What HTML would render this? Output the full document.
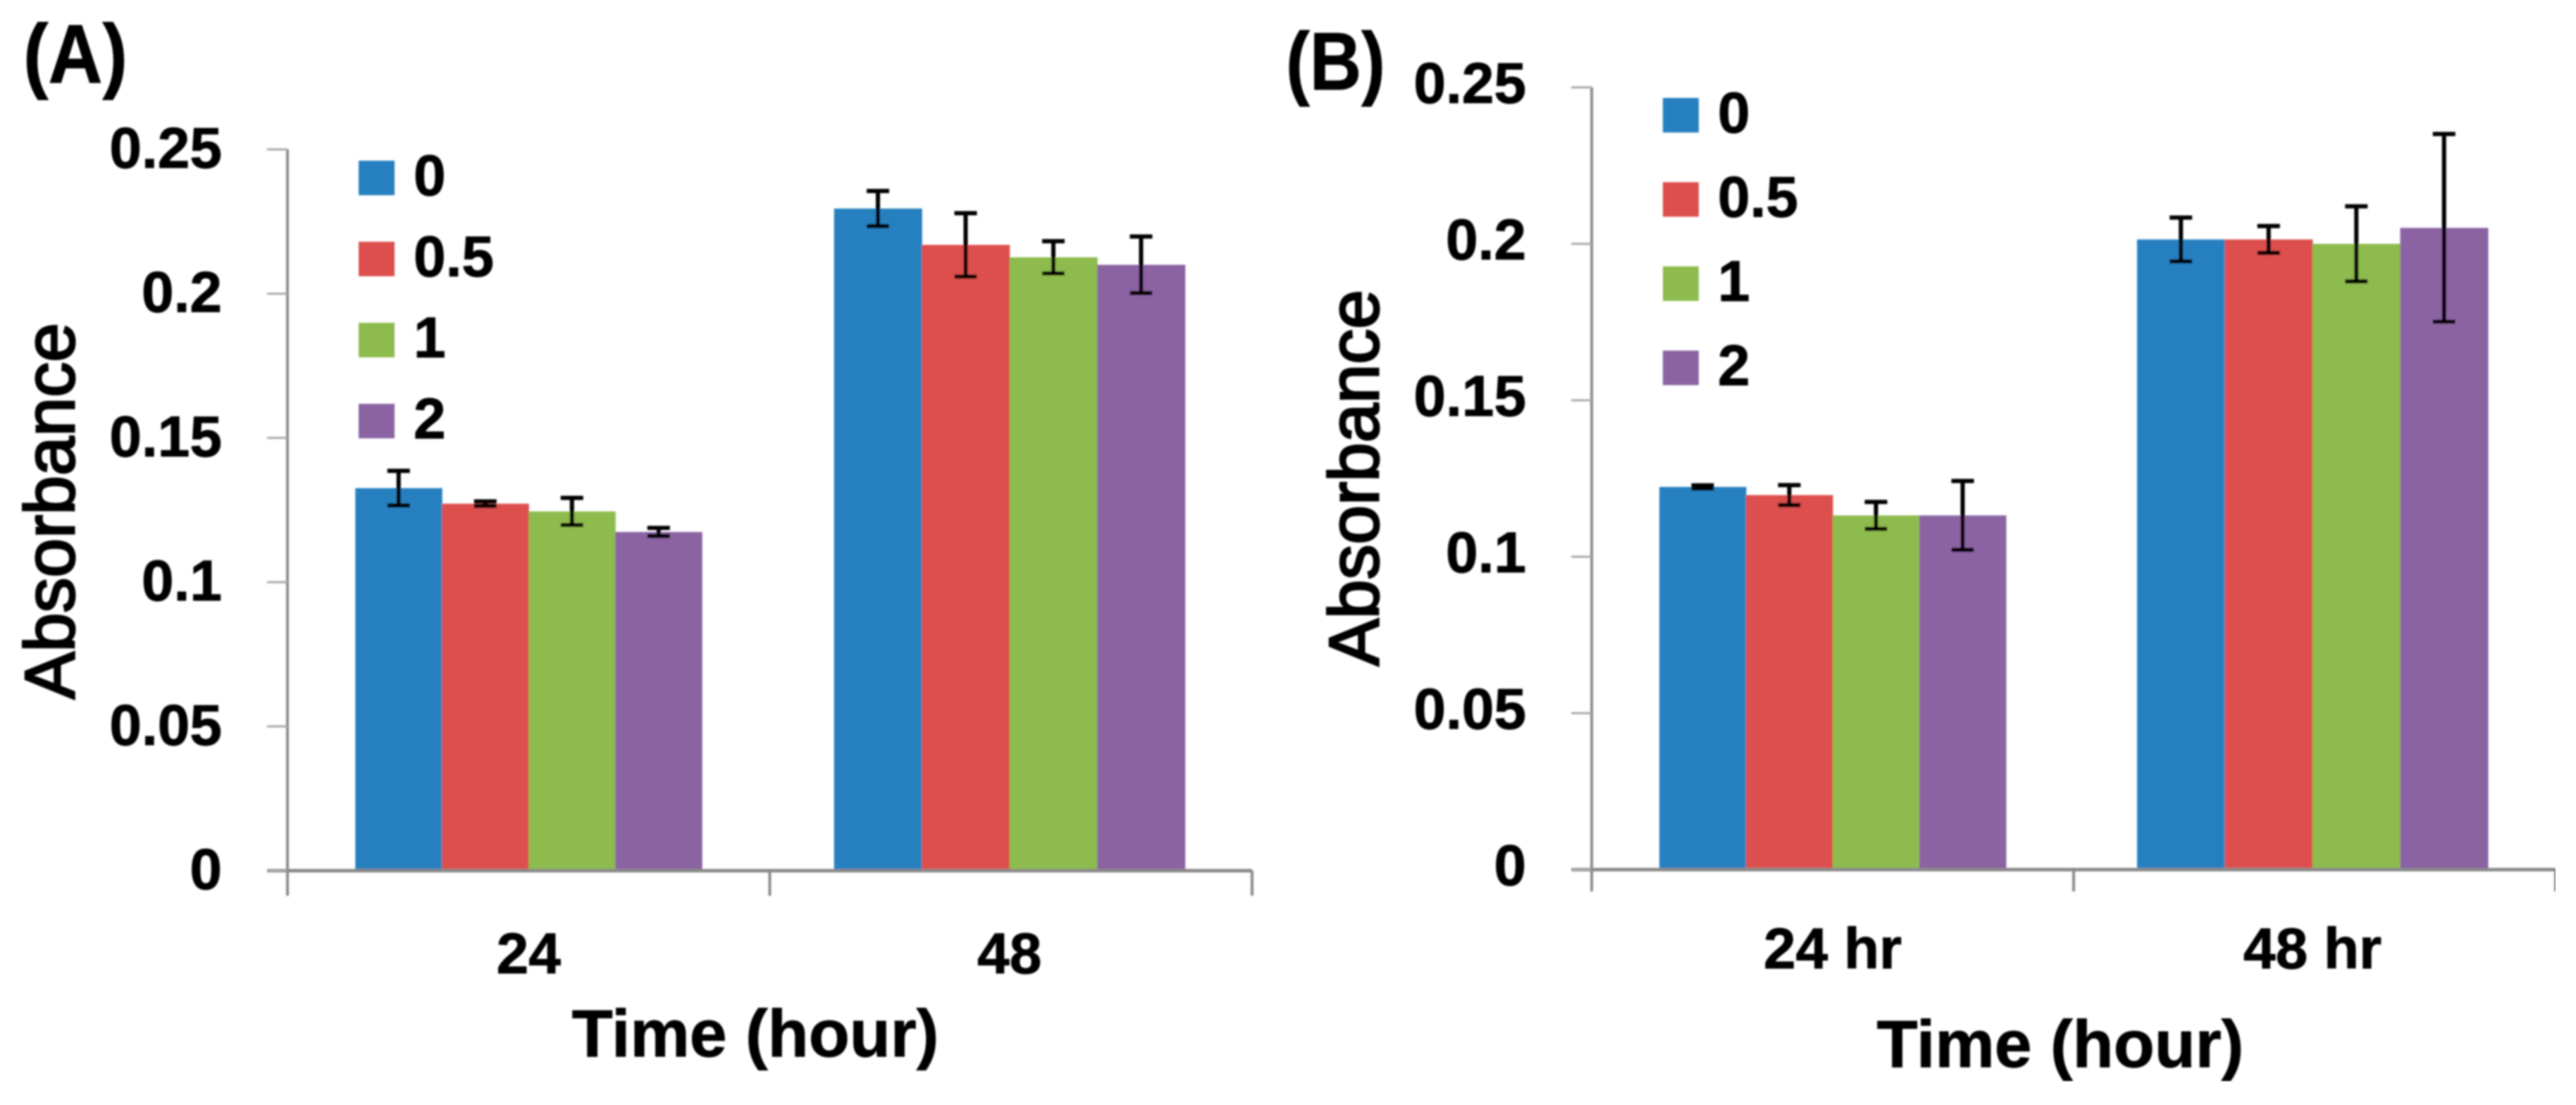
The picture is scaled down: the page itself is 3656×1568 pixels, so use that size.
<!DOCTYPE html>
<html lang="en">
<head>
<meta charset="utf-8">
<title>Absorbance over time, panels A and B</title>
<style>
html,body{margin:0;padding:0;background:#fff;width:3656px;height:1568px;overflow:hidden}
svg{display:block}
text{font-family:"Liberation Sans",Arial,sans-serif;fill:#000}
.b{font-weight:700;stroke:#000;stroke-width:1}
</style>
</head>
<body>
<svg id="figure" xmlns="http://www.w3.org/2000/svg" width="3656" height="1568" viewBox="0 0 3656 1568">
  <defs><filter id="soft" x="0" y="0" width="100%" height="100%"><feGaussianBlur stdDeviation="1.3"/></filter></defs>
  <rect width="3656" height="1568" fill="#fff"/>
  <g filter="url(#soft)">
    <text class="b" x="33" y="117" font-size="118" textLength="148" lengthAdjust="spacingAndGlyphs">(A)</text>
    <text class="b" x="1825" y="127" font-size="116" textLength="141" lengthAdjust="spacingAndGlyphs">(B)</text>
    <text transform="translate(105 725) rotate(-90)" text-anchor="middle" font-size="100" stroke="#000" stroke-width="3">Absorbance</text>
    <text transform="translate(1956 678) rotate(-90)" text-anchor="middle" font-size="100" stroke="#000" stroke-width="3">Absorbance</text>
    <text class="b" x="1072" y="1499" text-anchor="middle" font-size="95">Time (hour)</text>
    <text class="b" x="2924" y="1514" text-anchor="middle" font-size="95">Time (hour)</text>
    <g id="panel-a"></g>
    <g id="panel-b"></g>
  </g>
</svg>
<script>
const seriesNames = ['0', '0.5', '1', '2'];
const seriesColors = ['#2580bf', '#dc4f4d', '#8ebb4e', '#8b63a3'];
const yTickValues = [0, 0.05, 0.1, 0.15, 0.2, 0.25];
const yTickLabels = ['0', '0.05', '0.1', '0.15', '0.2', '0.25'];

const aCategories = ['24', '48'];
const aSeries0 = [0.1326, 0.2295];
const aSeries05 = [0.1272, 0.2169];
const aSeries1 = [0.1245, 0.2126];
const aSeries2 = [0.1174, 0.2100];
const aError0 = [0.0060, 0.0061];
const aError05 = [0.0008, 0.0110];
const aError1 = [0.0047, 0.0056];
const aError2 = [0.0014, 0.0098];

const bCategories = ['24 hr', '48 hr'];
const bSeries0 = [0.1223, 0.2014];
const bSeries05 = [0.1197, 0.2014];
const bSeries1 = [0.1132, 0.2000];
const bSeries2 = [0.1132, 0.2051];
const bError0 = [0.0005, 0.0070];
const bError05 = [0.0032, 0.0043];
const bError1 = [0.0043, 0.0120];
const bError2 = [0.0110, 0.0300];

const NS = 'http://www.w3.org/2000/svg';

function make(parent, tag, attrs) {
  const el = document.createElementNS(NS, tag);
  for (const k in attrs) el.setAttribute(k, attrs[k]);
  parent.appendChild(el);
  return el;
}

function drawPanel(root, prefix, cfg, categories, values, errors) {
  const yScale = v => cfg.y0 + (cfg.yTop - cfg.y0) * (v / 0.25);
  const band = (cfg.xRight - cfg.xLeft) / categories.length;
  const barW = c => cfg.groupWidth[c] / seriesNames.length;
  const barX = (c, s) => cfg.xLeft + band * (c + 0.5) + cfg.groupShift[c] + barW(c) * (s - seriesNames.length / 2);

  // bars
  values.forEach((series, s) => {
    series.forEach((v, c) => {
      const bar = make(root, 'rect', {x: barX(c, s), y: yScale(v), width: barW(c) + 0.5, height: cfg.y0 - yScale(v), fill: seriesColors[s]});
      
      
    });
  });

  // axes
  const yAxis = make(root, 'line', {x1: cfg.xLeft, x2: cfg.xLeft, y1: yScale(0.25), y2: cfg.tickBottom, stroke: '#8a8a8a', 'stroke-width': 4});
  
  
  const xAxis = make(root, 'line', {x1: cfg.xLeft - 29, x2: cfg.xRight, y1: cfg.y0, y2: cfg.y0, stroke: '#8a8a8a', 'stroke-width': 5});
  
  

  // y ticks
  yTickValues.forEach((v, i) => {
    const tick = make(root, 'line', {x1: cfg.xLeft - 29, x2: cfg.xLeft, y1: yScale(v), y2: yScale(v), stroke: '#a8a8a8', 'stroke-width': 3});
    
    
    const label = make(root, 'text', {x: cfg.yLabelX, y: yScale(v) + cfg.yLabelDy, 'text-anchor': 'end', 'font-size': 82, 'class': 'b'});
    label.textContent = yTickLabels[i];
    
    
  });

  // x ticks and labels
  for (let c = 0; c <= categories.length; c++) {
    const tick = make(root, 'line', {x1: cfg.xLeft + band * c, x2: cfg.xLeft + band * c, y1: cfg.y0, y2: cfg.tickBottom, stroke: '#8a8a8a', 'stroke-width': 4});
    
    
  }
  categories.forEach((name, c) => {
    const label = make(root, 'text', {x: cfg.xLeft + band * (c + 0.5) + cfg.groupShift[c], y: cfg.xLabelY, 'text-anchor': 'middle', 'font-size': 82, 'class': 'b'});
    label.textContent = name;
    
    
  });

  // error bars
  values.forEach((series, s) => {
    series.forEach((v, c) => {
      const cx = barX(c, s) + barW(c) / 2;
      const hi = yScale(v + errors[s][c]);
      const lo = yScale(v - errors[s][c]);
      const err = make(root, 'path', {d: 'M' + (cx - 16) + ' ' + hi + 'H' + (cx + 16) + 'M' + cx + ' ' + hi + 'V' + lo + 'M' + (cx - 16) + ' ' + lo + 'H' + (cx + 16), fill: 'none', stroke: '#000', 'stroke-width': 6});
      
      
    });
  });

  // legend
  seriesNames.forEach((name, s) => {
    const bottom = cfg.legendBottom + cfg.legendPitch * s;
    const swatch = make(root, 'rect', {x: cfg.legendX, y: bottom - 49, width: 51, height: 49, fill: seriesColors[s]});
    
    
    const label = make(root, 'text', {x: cfg.legendX + 78, y: bottom, 'font-size': 82, 'class': 'b'});
    label.textContent = name;
    
    
  });
}

drawPanel(document.getElementById('panel-a'), 'panel-a',
  {xLeft: 408, xRight: 1777, y0: 1235.5, yTop: 212, tickBottom: 1271, yLabelX: 315, yLabelDy: 26, xLabelY: 1381, legendX: 509, legendBottom: 277, legendPitch: 115, groupWidth: [492, 498], groupShift: [0, -2]},
  aCategories, [aSeries0, aSeries05, aSeries1, aSeries2], [aError0, aError05, aError1, aError2]);

drawPanel(document.getElementById('panel-b'), 'panel-b',
  {xLeft: 2259, xRight: 3627, y0: 1234, yTop: 124, tickBottom: 1265, yLabelX: 2166, yLabelDy: 22, xLabelY: 1374, legendX: 2360, legendBottom: 188, legendPitch: 119.5, groupWidth: [492, 498], groupShift: [0, -3]},
  bCategories, [bSeries0, bSeries05, bSeries1, bSeries2], [bError0, bError05, bError1, bError2]);
</script>
</body>
</html>
